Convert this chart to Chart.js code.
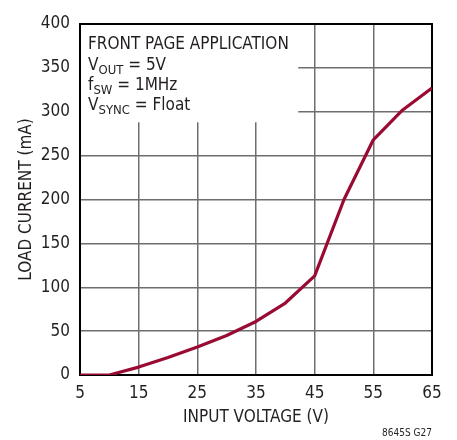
<!DOCTYPE html>
<html>
<head>
<meta charset="utf-8">
<script src="https://cdn.jsdelivr.net/npm/chart.js@4.4.1/dist/chart.umd.min.js"></script>
<style>
html,body{margin:0;padding:0;background:#fff;}
#wrap{width:457px;height:440px;position:relative;}
</style>
</head>
<body>
<div id="wrap"><canvas id="c" width="457" height="440"></canvas></div>
<script>
const inputVoltage = [5, 10, 15, 20, 25, 30, 35, 40, 45, 50, 55, 60, 65];
const loadCurrent  = [0, 0, 9, 20, 32, 45, 61, 82, 113, 200, 268, 302, 327];
const xTicks = [5, 15, 25, 35, 45, 55, 65];
const yTicks = [0, 50, 100, 150, 200, 250, 300, 350, 400];
const xTitle = 'INPUT VOLTAGE (V)';
const yTitle = 'LOAD CURRENT (mA)';
const noteLines = [
  [['FRONT PAGE APPLICATION', false]],
  [['V', false], ['OUT', true], [' = 5V', false]],
  [['f', false], ['SW', true], [' = 1MHz', false]],
  [['V', false], ['SYNC', true], [' = Float', false]]
];
const footnote = '8645S G27';

const FONT = '"Liberation Sans Narrow", "DejaVu Sans Condensed", "Liberation Sans", sans-serif';
const TEXT = '#231f20';

const boxPlugin = {
  id: 'box',
  beforeDatasetsDraw(chart) {
    const {ctx, chartArea: a, scales: {x, y}} = chart;
    ctx.save();
    ctx.fillStyle = '#fff';
    const bx = x.getPixelForValue(42.2);
    const by = y.getPixelForValue(288);
    ctx.fillRect(a.left, a.top, bx - a.left, by - a.top);
    ctx.fillStyle = TEXT;
    ctx.textBaseline = 'alphabetic';
    const baselines = [49, 70, 90, 110];
    noteLines.forEach((parts, i) => {
      let cx = a.left + 8;
      parts.forEach(([t, sub]) => {
        ctx.font = (sub ? '13px ' : '17px ') + FONT;
        ctx.fillText(t, cx, baselines[i] + (sub ? 4 : 0));
        cx += ctx.measureText(t).width;
      });
    });
    ctx.strokeStyle = '#000';
    ctx.lineWidth = 2;
    ctx.strokeRect(a.left, a.top, a.right - a.left, a.bottom - a.top);
    ctx.font = '10px ' + FONT;
    ctx.textAlign = 'right';
    ctx.fillText(footnote, a.right, 436);
    ctx.restore();
  }
};

new Chart(document.getElementById('c'), {
  type: 'line',
  data: {
    labels: inputVoltage,
    datasets: [{
      data: inputVoltage.map((v, i) => ({x: v, y: loadCurrent[i]})),
      borderColor: '#9a0b33',
      borderWidth: 3.2,
      pointRadius: 0,
      tension: 0,
      borderJoinStyle: 'round',
      fill: false
    }]
  },
  options: {
    responsive: false,
    animation: false,
    devicePixelRatio: 1,
    layout: {padding: {left: 0, right: 25, top: 24, bottom: 0}},
    plugins: {legend: {display: false}, tooltip: {enabled: false}},
    scales: {
      x: {
        type: 'linear',
        min: 5, max: 65,
        afterBuildTicks: s => { s.ticks = xTicks.map(v => ({value: v})); },
        afterFit: s => { s.height = 65; },
        grid: {color: '#6e6e6e', lineWidth: 1.5, drawTicks: false},
        border: {display: false},
        ticks: {color: TEXT, font: {family: FONT, size: 17}, padding: 8, maxRotation: 0, autoSkip: false},
        title: {display: true, text: xTitle, color: TEXT, font: {family: FONT, size: 17}, padding: {top: 0, bottom: 12}}
      },
      y: {
        min: 0, max: 400,
        afterBuildTicks: s => { s.ticks = yTicks.map(v => ({value: v})); },
        afterFit: s => { s.width = 80; },
        grid: {color: '#6e6e6e', lineWidth: 1.5, drawTicks: false},
        border: {display: false},
        ticks: {color: TEXT, font: {family: FONT, size: 17}, padding: 10},
        title: {display: true, text: yTitle, color: TEXT, font: {family: FONT, size: 17}, padding: {top: 16, bottom: 0}}
      }
    }
  },
  plugins: [boxPlugin]
});
</script>
</body>
</html>
